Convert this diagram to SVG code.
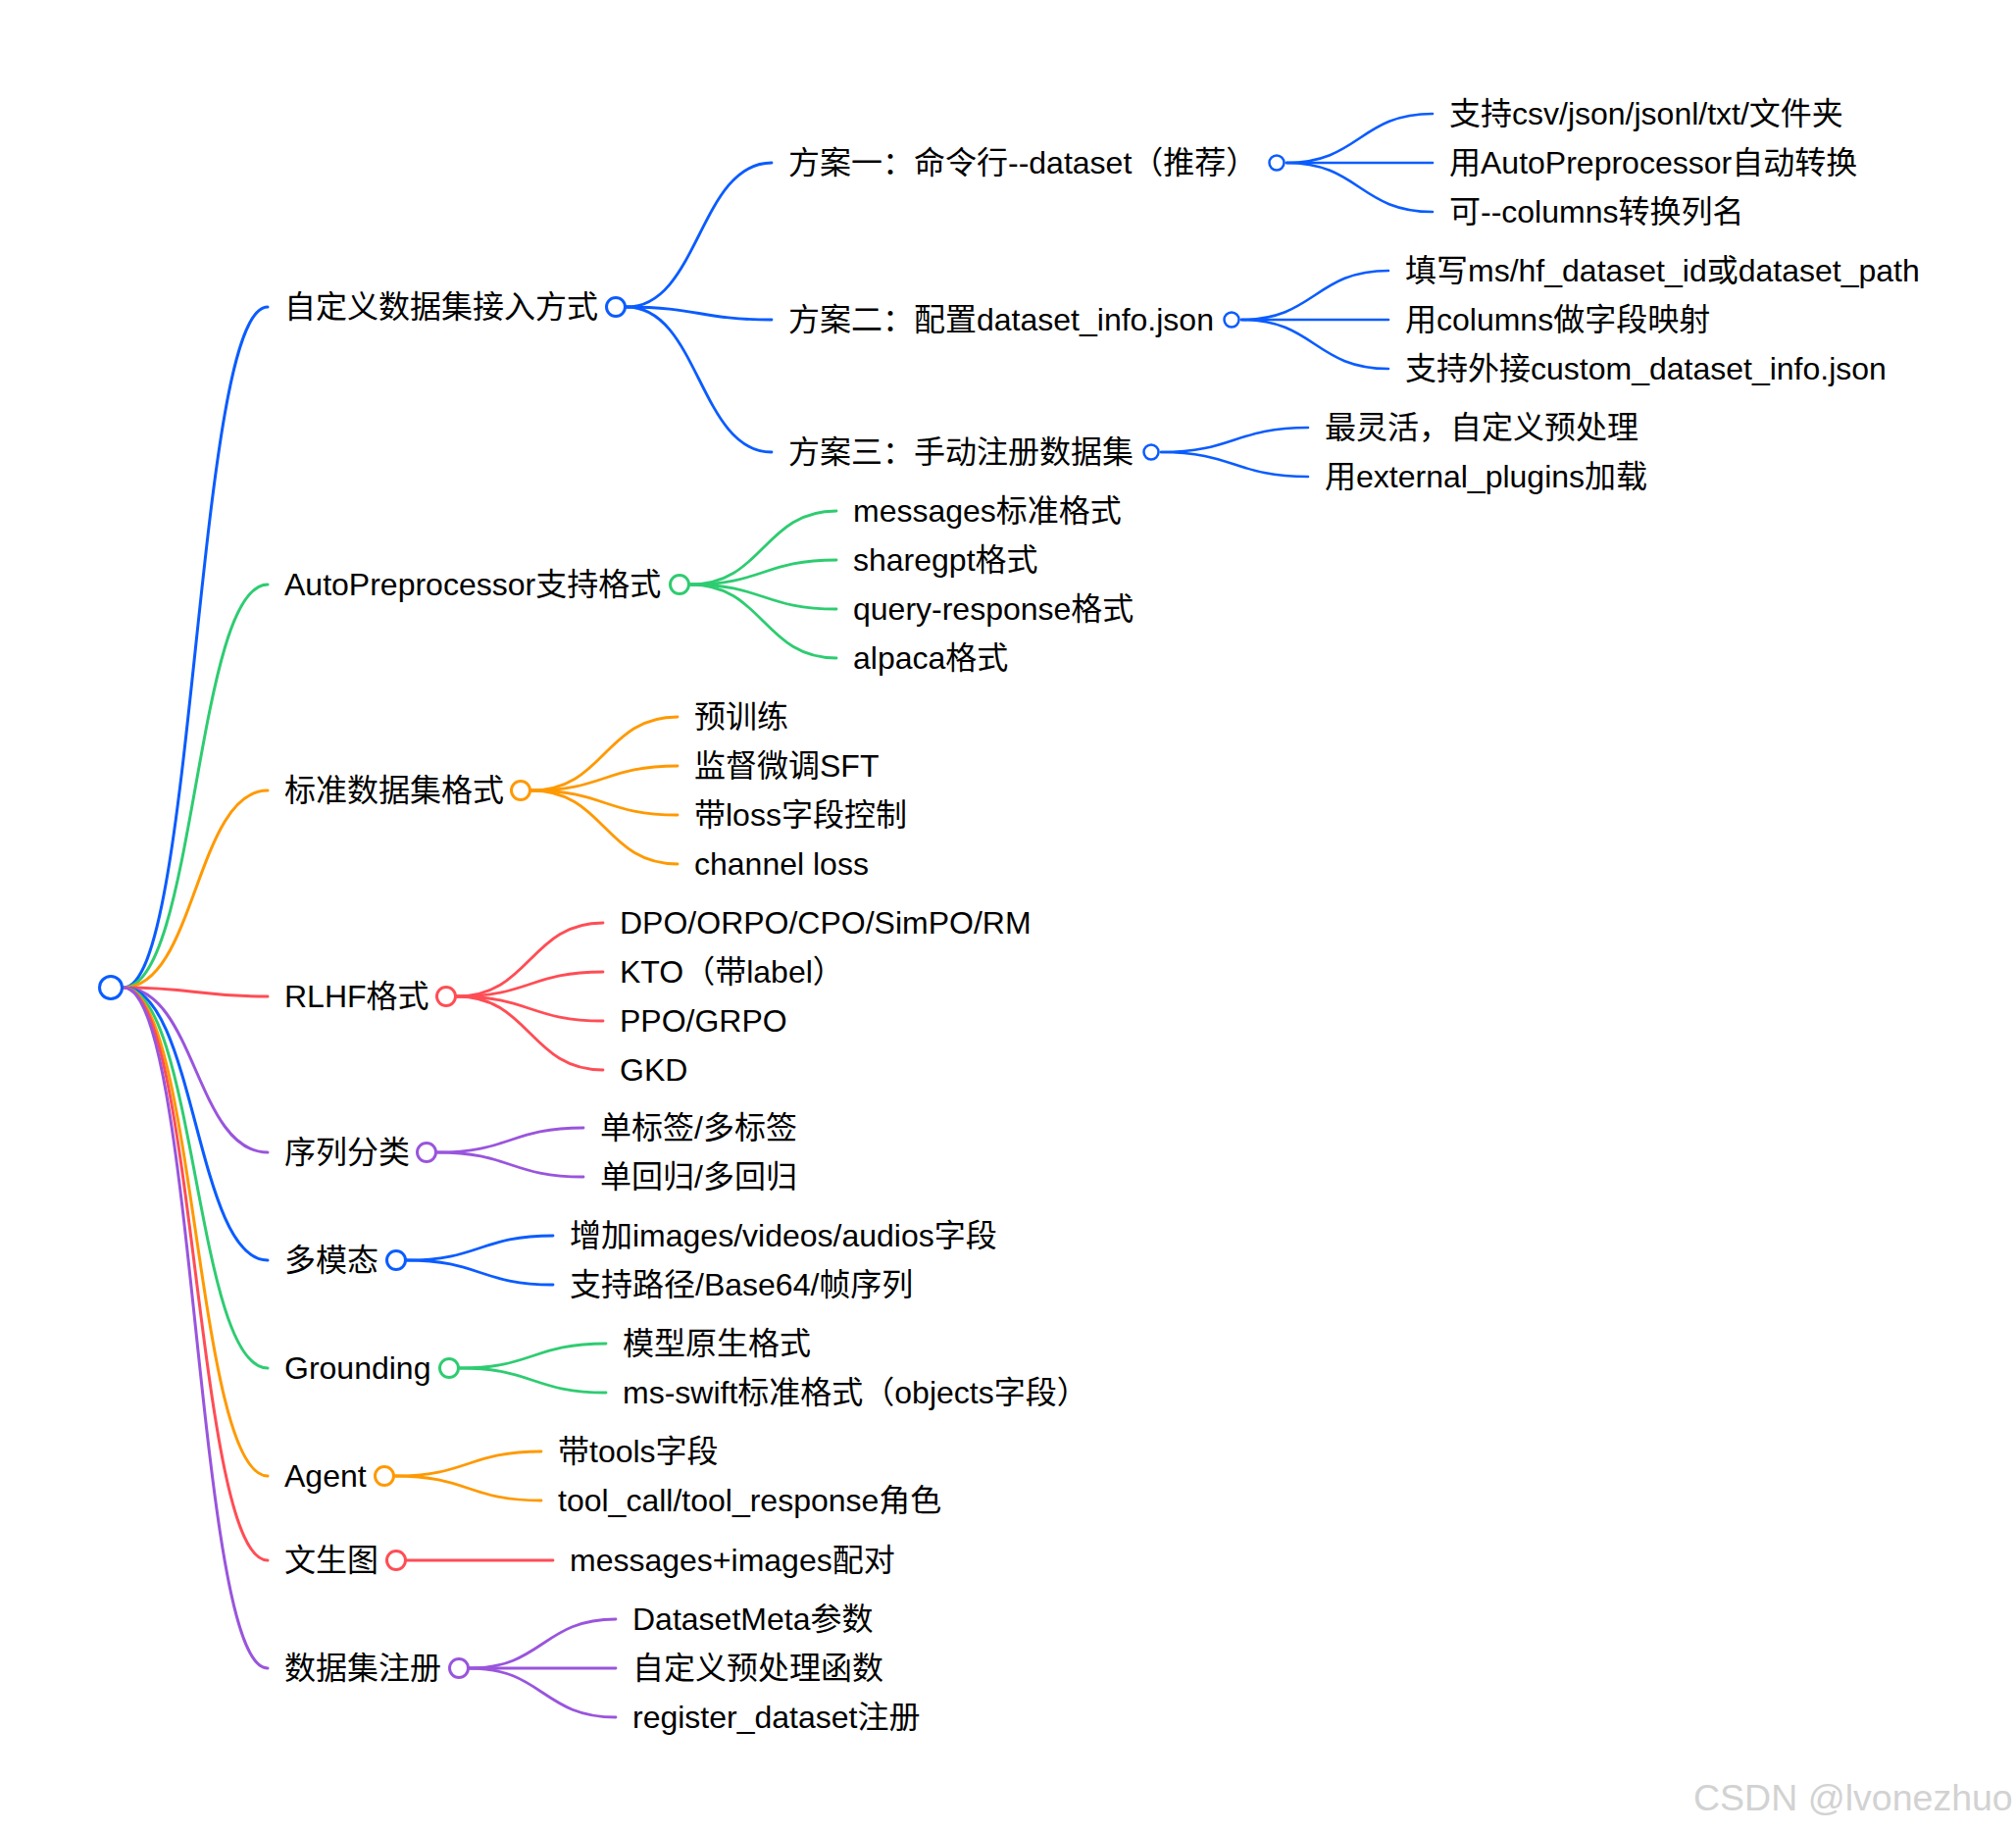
<svg xmlns="http://www.w3.org/2000/svg" width="2056" height="1867" viewBox="0 0 2056 1867">
<style>
text { font-family: "Liberation Sans", Arial, "Noto Sans CJK SC", sans-serif; font-size: 32px; fill: #000; }
.wm { font-size: 37.5px; fill: #d2d2d2; }
path { fill: none; stroke-linecap: round; }
.b { stroke: #0a5cff; }
.g { stroke: #2ecc71; }
.o { stroke: #ff9900; }
.r { stroke: #ff4d55; }
.p { stroke: #9955dd; }
.w1 path { stroke-width: 3; }
.w2 path { stroke-width: 2.8; }
.w3 path { stroke-width: 2.6; }
circle { fill: #fff; }
.c0 { stroke-width: 3; }
.c1 { stroke-width: 3; }
.c2 { stroke-width: 2.5; }
circle.b { stroke: #0a5cff; } circle.g { stroke: #2ecc71; } circle.o { stroke: #ff9900; } circle.r { stroke: #ff4d55; } circle.p { stroke: #9955dd; }
</style>
<g id="connectors">
  <g class="w1">
    <path class="b" d="M126 1007 C199.5 1007 199.5 313 273 313"/>
    <path class="g" d="M126 1007 C199.5 1007 199.5 596 273 596"/>
    <path class="o" d="M126 1007 C199.5 1007 199.5 806 273 806"/>
    <path class="r" d="M126 1007 C199.5 1007 199.5 1016 273 1016"/>
    <path class="p" d="M126 1007 C199.5 1007 199.5 1175 273 1175"/>
    <path class="b" d="M126 1007 C199.5 1007 199.5 1285 273 1285"/>
    <path class="g" d="M126 1007 C199.5 1007 199.5 1395 273 1395"/>
    <path class="o" d="M126 1007 C199.5 1007 199.5 1505 273 1505"/>
    <path class="r" d="M126 1007 C199.5 1007 199.5 1591 273 1591"/>
    <path class="p" d="M126 1007 C199.5 1007 199.5 1701 273 1701"/>
  </g>
  <g class="w2">
    <path class="b" d="M639 313 C713 313 713 166 787 166"/>
    <path class="b" d="M639 313 C713 313 713 326 787 326"/>
    <path class="b" d="M639 313 C713 313 713 461 787 461"/>
    <path class="g" d="M704 596 C778.5 596 778.5 521 853 521"/>
    <path class="g" d="M704 596 C778.5 596 778.5 571 853 571"/>
    <path class="g" d="M704 596 C778.5 596 778.5 621 853 621"/>
    <path class="g" d="M704 596 C778.5 596 778.5 671 853 671"/>
    <path class="o" d="M542 806 C616.5 806 616.5 731 691 731"/>
    <path class="o" d="M542 806 C616.5 806 616.5 781 691 781"/>
    <path class="o" d="M542 806 C616.5 806 616.5 831 691 831"/>
    <path class="o" d="M542 806 C616.5 806 616.5 881 691 881"/>
    <path class="r" d="M466 1016 C540.5 1016 540.5 941 615 941"/>
    <path class="r" d="M466 1016 C540.5 1016 540.5 991 615 991"/>
    <path class="r" d="M466 1016 C540.5 1016 540.5 1041 615 1041"/>
    <path class="r" d="M466 1016 C540.5 1016 540.5 1091 615 1091"/>
    <path class="p" d="M446 1175 C520.5 1175 520.5 1150 595 1150"/>
    <path class="p" d="M446 1175 C520.5 1175 520.5 1200 595 1200"/>
    <path class="b" d="M415 1285 C489.5 1285 489.5 1260 564 1260"/>
    <path class="b" d="M415 1285 C489.5 1285 489.5 1310 564 1310"/>
    <path class="g" d="M469 1395 C543.5 1395 543.5 1370 618 1370"/>
    <path class="g" d="M469 1395 C543.5 1395 543.5 1420 618 1420"/>
    <path class="o" d="M403 1505 C477.5 1505 477.5 1480 552 1480"/>
    <path class="o" d="M403 1505 C477.5 1505 477.5 1530 552 1530"/>
    <path class="r" d="M415 1591 H564"/>
    <path class="p" d="M479 1701 C553.5 1701 553.5 1651 628 1651"/>
    <path class="p" d="M479 1701 C553.5 1701 553.5 1701 628 1701"/>
    <path class="p" d="M479 1701 C553.5 1701 553.5 1751 628 1751"/>
  </g>
  <g class="w3">
    <path class="b" d="M1312 166 C1386.5 166 1386.5 116 1461 116"/>
    <path class="b" d="M1312 166 C1386.5 166 1386.5 166 1461 166"/>
    <path class="b" d="M1312 166 C1386.5 166 1386.5 216 1461 216"/>
    <path class="b" d="M1266 326 C1341 326 1341 276 1416 276"/>
    <path class="b" d="M1266 326 C1341 326 1341 326 1416 326"/>
    <path class="b" d="M1266 326 C1341 326 1341 376 1416 376"/>
    <path class="b" d="M1184 461 C1259 461 1259 436 1334 436"/>
    <path class="b" d="M1184 461 C1259 461 1259 486 1334 486"/>
  </g>
</g>
<g id="root"><circle class="b c0" cx="113" cy="1007" r="11.5"/></g>
<g id="n-custom">
  <text x="290" y="324">自定义数据集接入方式</text>
  <circle class="b c1" cx="628" cy="313" r="9.5"/>
</g>
<g id="n-plan1">
  <text x="804" y="177">方案一：命令行--dataset（推荐）</text>
  <circle class="b c2" cx="1302" cy="166" r="7.5"/>
</g>
<g id="n-plan1-a"><text x="1478" y="127">支持csv/json/jsonl/txt/文件夹</text></g>
<g id="n-plan1-b"><text x="1478" y="177">用AutoPreprocessor自动转换</text></g>
<g id="n-plan1-c"><text x="1478" y="227">可--columns转换列名</text></g>
<g id="n-plan2">
  <text x="804" y="337">方案二：配置dataset_info.json</text>
  <circle class="b c2" cx="1256" cy="326" r="7.5"/>
</g>
<g id="n-plan2-a"><text x="1433" y="287">填写ms/hf_dataset_id或dataset_path</text></g>
<g id="n-plan2-b"><text x="1433" y="337">用columns做字段映射</text></g>
<g id="n-plan2-c"><text x="1433" y="387">支持外接custom_dataset_info.json</text></g>
<g id="n-plan3">
  <text x="804" y="472">方案三：手动注册数据集</text>
  <circle class="b c2" cx="1174" cy="461" r="7.5"/>
</g>
<g id="n-plan3-a"><text x="1351" y="447">最灵活，自定义预处理</text></g>
<g id="n-plan3-b"><text x="1351" y="497">用external_plugins加载</text></g>

<g id="n-auto">
  <text x="290" y="607">AutoPreprocessor支持格式</text>
  <circle class="g c1" cx="693" cy="596" r="9.5"/>
</g>
<g id="n-auto-a"><text x="870" y="532">messages标准格式</text></g>
<g id="n-auto-b"><text x="870" y="582">sharegpt格式</text></g>
<g id="n-auto-c"><text x="870" y="632">query-response格式</text></g>
<g id="n-auto-d"><text x="870" y="682">alpaca格式</text></g>

<g id="n-std">
  <text x="290" y="817">标准数据集格式</text>
  <circle class="o c1" cx="531" cy="806" r="9.5"/>
</g>
<g id="n-std-a"><text x="708" y="742">预训练</text></g>
<g id="n-std-b"><text x="708" y="792">监督微调SFT</text></g>
<g id="n-std-c"><text x="708" y="842">带loss字段控制</text></g>
<g id="n-std-d"><text x="708" y="892">channel loss</text></g>

<g id="n-rlhf">
  <text x="290" y="1027">RLHF格式</text>
  <circle class="r c1" cx="455" cy="1016" r="9.5"/>
</g>
<g id="n-rlhf-a"><text x="632" y="952">DPO/ORPO/CPO/SimPO/RM</text></g>
<g id="n-rlhf-b"><text x="632" y="1002">KTO（带label）</text></g>
<g id="n-rlhf-c"><text x="632" y="1052">PPO/GRPO</text></g>
<g id="n-rlhf-d"><text x="632" y="1102">GKD</text></g>

<g id="n-seq">
  <text x="290" y="1186">序列分类</text>
  <circle class="p c1" cx="435" cy="1175" r="9.5"/>
</g>
<g id="n-seq-a"><text x="612" y="1161">单标签/多标签</text></g>
<g id="n-seq-b"><text x="612" y="1211">单回归/多回归</text></g>

<g id="n-mm">
  <text x="290" y="1296">多模态</text>
  <circle class="b c1" cx="404" cy="1285" r="9.5"/>
</g>
<g id="n-mm-a"><text x="581" y="1271">增加images/videos/audios字段</text></g>
<g id="n-mm-b"><text x="581" y="1321">支持路径/Base64/帧序列</text></g>

<g id="n-ground">
  <text x="290" y="1406">Grounding</text>
  <circle class="g c1" cx="458" cy="1395" r="9.5"/>
</g>
<g id="n-ground-a"><text x="635" y="1381">模型原生格式</text></g>
<g id="n-ground-b"><text x="635" y="1431">ms-swift标准格式（objects字段）</text></g>

<g id="n-agent">
  <text x="290" y="1516">Agent</text>
  <circle class="o c1" cx="392" cy="1505" r="9.5"/>
</g>
<g id="n-agent-a"><text x="569" y="1491">带tools字段</text></g>
<g id="n-agent-b"><text x="569" y="1541">tool_call/tool_response角色</text></g>

<g id="n-t2i">
  <text x="290" y="1602">文生图</text>
  <circle class="r c1" cx="404" cy="1591" r="9.5"/>
</g>
<g id="n-t2i-a"><text x="581" y="1602">messages+images配对</text></g>

<g id="n-reg">
  <text x="290" y="1712">数据集注册</text>
  <circle class="p c1" cx="468" cy="1701" r="9.5"/>
</g>
<g id="n-reg-a"><text x="645" y="1662">DatasetMeta参数</text></g>
<g id="n-reg-b"><text x="645" y="1712">自定义预处理函数</text></g>
<g id="n-reg-c"><text x="645" y="1762">register_dataset注册</text></g>

<text class="wm" x="1727" y="1846">CSDN @lvonezhuo</text>
</svg>
